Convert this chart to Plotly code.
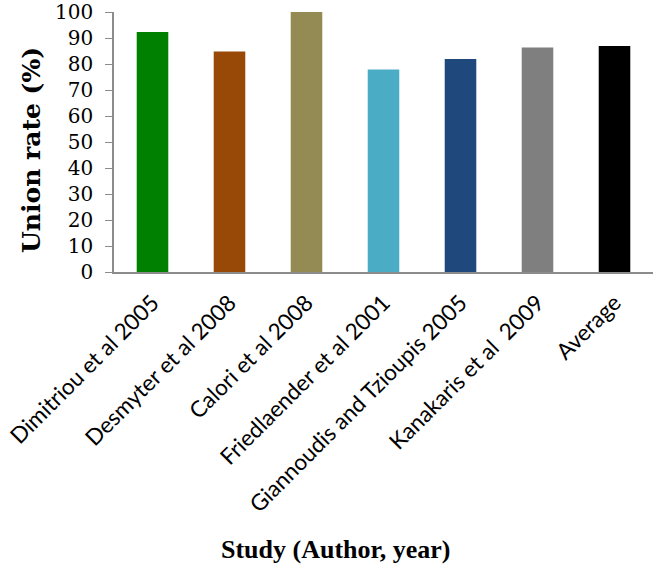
import plotly.graph_objects as go

studies = ["Dimitriou et al 2005", "Desmyter et al 2008", "Calori et al 2008",
           "Friedlaender et al 2001", "Giannoudis and Tzioupis 2005",
           "Kanakaris et al  2009", "Average"]
union_rate = [92.3, 84.8, 100, 77.9, 81.9, 86.3, 86.9]
colors = ["#008000", "#984807", "#948a54", "#4bacc6", "#1f497d", "#7f7f7f", "#000000"]
y_ticks = list(range(0, 101, 10))

W, H = 653, 564
L, R, T, B = 114, 0, 12, 292

fig = go.Figure(go.Bar(x=studies, y=union_rate, marker=dict(color=colors, line=dict(width=0)),
                       width=0.41))

fig.update_layout(
    width=W, height=H,
    margin=dict(l=L, r=R, t=T, b=B),
    paper_bgcolor="white", plot_bgcolor="white",
    showlegend=False,
    xaxis=dict(showline=True, linecolor="#8c8c8c", linewidth=1.5, ticks="",
               tickangle=-45, tickfont=dict(family="Lato", size=22.5, color="black"),
               ticklabelstandoff=7,
               showgrid=False, range=[-0.5, 6.5], automargin=False),
    yaxis=dict(range=[0, 100], tickvals=y_ticks, showline=True, linecolor="#8c8c8c",
               linewidth=1.5, ticks="outside", ticklen=7, tickcolor="#8c8c8c",
               ticklabelstandoff=8, ticklabeloverflow="allow",
               tickfont=dict(family="DejaVu Serif", size=20, color="black"),
               showgrid=False, zeroline=False, automargin=False),
)

pw, ph = W - L - R, H - T - B
def px2paper(px, py):
    return (px - L) / pw, (H - B - py) / ph

ax, ay = px2paper(31, 150)
bx, by = px2paper(335, 550)
fig.add_annotation(text="<b>Union rate (%)</b>", x=ax, y=ay, xref="paper", yref="paper",
                   xanchor="center", yanchor="middle",
                   showarrow=False, textangle=-90,
                   font=dict(family="DejaVu Serif", size=25, color="black"))
fig.add_annotation(text="<b>Study (Author, year)</b>", x=bx, y=by, xref="paper", yref="paper",
                   xanchor="center", yanchor="middle",
                   showarrow=False, font=dict(family="Liberation Serif", size=26, color="black"))

fig.write_html("out.html", config={"displayModeBar": False},
               post_script="document.body.style.margin='0';document.body.style.overflow='hidden';")
